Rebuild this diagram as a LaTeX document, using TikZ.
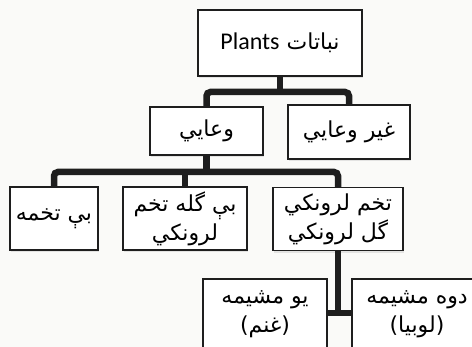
\documentclass[tikz,border=0pt]{standalone}
\usepackage{fontspec}
\usetikzlibrary{shadows}
\TeXXeTstate=1
\newfontfamily\arabicfont[Script=Arabic]{DejaVu Sans}
\newfontfamily\latinfont{Carlito}
\definecolor{Ink}{HTML}{1E1E1E}
\definecolor{Paper}{HTML}{FAFAF8}
\tikzset{
  box/.style={
    draw=Ink, line width=1.4pt, fill=white, align=center,
    inner sep=2pt, font=\arabicfont\fontsize{22}{29}\selectfont,
    drop shadow={opacity=0.18, shadow xshift=1pt, shadow yshift=-2.5pt}
  },
  branch/.style={draw=Ink, line width=6.5pt, rounded corners=4pt}
}

\begin{document}
\begin{tikzpicture}[x=1pt,y=-1pt]
    \useasboundingbox (0,0) rectangle (472,347);
    \fill[Paper] (0,0) rectangle (472,347);
    \clip (0,0) rectangle (472,347);
    % top level
    \node[box,minimum width=164pt,minimum height=66pt] (plants) at (280,43)
      {\beginR نباتات \beginL{\latinfont\fontsize{24}{28}\selectfont Plants}\endL\endR};
    \node[box,minimum width=113pt,minimum height=48pt] (vascular) at (206.5,131)
      {\beginR وعايي\endR};
    \node[box,minimum width=122pt,minimum height=54pt] (nonvascular) at (349,132)
      {\beginR غير وعايي\endR};
    % second level
    \node[box,minimum width=88pt,minimum height=63pt] (seedless) at (54,218.5)
      {\beginR بې تخمه\endR};
    \node[box,minimum width=124pt,minimum height=63pt] (gymno) at (185,218.5)
      {\beginR بې گله تخم\endR\\\beginR لرونکي\endR};
    \node[box,minimum width=130pt,minimum height=63pt] (angio) at (338,219)
      {\beginR تخم لرونکي\endR\\\beginR گل لرونکي\endR};
    % third level
    \node[box,minimum width=124pt,minimum height=70pt] (monocot) at (265,314)
      {\beginR يو مشيمه\endR\\\beginR (غنم)\endR};
    \node[box,minimum width=130pt,minimum height=70pt] (dicot) at (417,314)
      {\beginR دوه مشيمه\endR\\\beginR (لوبيا)\endR};
    % junctions
    \coordinate (j1) at (280,92);
    \coordinate (j2) at (206.5,172);
    \coordinate (j3) at (338,313);
    \draw[branch] (plants.south -| j1) -- (j1);
    \draw[branch] (vascular.north) |- (j1) -| (nonvascular.north);
    \draw[branch] (vascular.south) -- (j2);
    \draw[branch] (seedless.north) |- (j2) -| (angio.north);
    \draw[branch] (gymno.north) -- (gymno.north |- j2);
    \draw[branch] (angio.south) -- (j3);
    \draw[branch] (monocot.east |- j3) -- (dicot.west |- j3);
  \end{tikzpicture}
\end{document}
